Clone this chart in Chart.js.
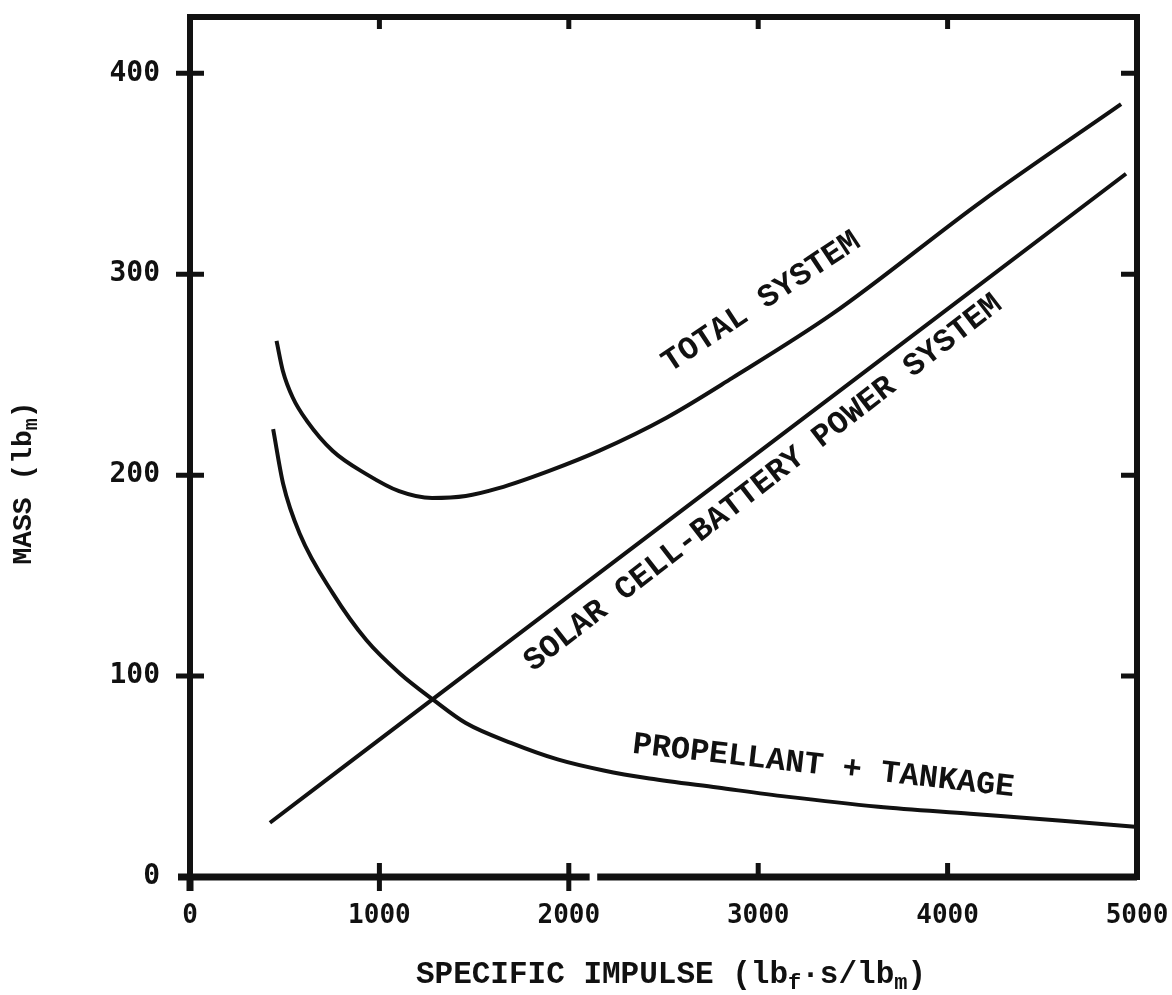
<!DOCTYPE html>
<html>
<head>
<meta charset="utf-8">
<title>Mass vs specific impulse</title>
<script src="https://cdn.jsdelivr.net/npm/chart.js@4.4.1/dist/chart.umd.min.js"></script>
<style>
  body { margin: 0; background: #fff; }
  #wrap { width: 1172px; height: 995px; }
</style>
</head>
<body>
<div id="wrap"><canvas id="massChart" width="1172" height="995"></canvas></div>
<script>
// values (specific impulse in lbf*s/lbm, mass in lbm)
const totalIsp = [457, 490, 543, 617, 754, 931, 1104, 1278, 1456, 1630, 1893, 2162, 2516, 2864, 3391, 4182, 4916];
const totalMass = [266.8, 252, 238.5, 227, 212, 200.5, 192, 188.6, 189.6, 193.5, 202, 212.2, 228.6, 248.4, 280.2, 336.4, 384.6];

const solarIsp = [422, 1275, 4942];
const solarMass = [27, 88, 350];

const propIsp = [439, 492, 580, 756, 932, 1108, 1287, 1456, 1698, 1941, 2184, 2426, 2785, 3149, 3634, 4119, 4604, 4989];
const propMass = [222.9, 195.6, 170.7, 140.9, 117.8, 101.3, 88.0, 76.6, 66.6, 58.5, 53, 49, 44.5, 40, 35, 31.5, 28, 25];

const xTicks = [0, 1000, 2000, 3000, 4000, 5000];
const yTicks = [0, 100, 200, 300, 400];

const INK = '#111';
const monoFont = '"Liberation Mono", "DejaVu Sans Mono", monospace';
const tickFont = '"DejaVu Sans Mono", monospace';

function toPoints(xs, ys) {
    return xs.map((x, i) => ({ x: x, y: ys[i] }));
}

// curve captions, placed in data units
const captions = [
    { text: 'TOTAL SYSTEM', x: 3017, y: 286, angle: -33.5 },
    { text: 'SOLAR CELL-BATTERY POWER SYSTEM', x: 3027, y: 196, angle: -37.8 },
    { text: 'PROPELLANT + TANKAGE', x: 3344, y: 55, angle: 6.5 }
];

// draws text made of parts, some of them subscripts
function drawRich(ctx, parts, size) {
    let total = 0;
    parts.forEach(p => {
        ctx.font = 'bold ' + (p.sub ? Math.round(size * 0.7) : size) + 'px ' + monoFont;
        p.w = ctx.measureText(p.t).width;
        total += p.w;
    });
    let x = -total / 2;
    parts.forEach(p => {
        ctx.font = 'bold ' + (p.sub ? Math.round(size * 0.7) : size) + 'px ' + monoFont;
        ctx.fillText(p.t, x, p.sub ? size * 0.28 : 0);
        x += p.w;
    });
}

const framePlugin = {
    id: 'frame',
    afterDatasetsDraw(chart) {
        const ctx = chart.ctx;
        const a = chart.chartArea;
        const xs = chart.scales.x;
        const ys = chart.scales.y;
        ctx.save();
        ctx.strokeStyle = INK;
        ctx.lineCap = 'butt';

        // box
        ctx.lineWidth = 6;
        ctx.strokeRect(a.left, a.top, a.right - a.left, a.bottom - a.top);
        ctx.lineWidth = 7;
        ctx.beginPath();
        ctx.moveTo(a.left - 12, a.bottom);
        ctx.lineTo(a.right, a.bottom);
        ctx.moveTo(a.left, a.bottom + 14);
        ctx.lineTo(a.left, a.bottom);
        ctx.stroke();

        // break in the bottom axis
        ctx.fillStyle = '#fff';
        const g1 = xs.getPixelForValue(2110), g2 = xs.getPixelForValue(2150);
        ctx.fillRect(g1, a.bottom - 6, g2 - g1, 12);

        ctx.lineWidth = 5;
        ctx.beginPath();
        yTicks.forEach(v => {
            if (v === 0) return;
            const py = ys.getPixelForValue(v);
            ctx.moveTo(a.left - 14, py);
            ctx.lineTo(a.left + 14, py);
            ctx.moveTo(a.right, py);
            ctx.lineTo(a.right - 16, py);
        });
        xTicks.forEach(v => {
            if (v === 0 || v === 5000) return;
            const px = xs.getPixelForValue(v);
            ctx.moveTo(px, a.top);
            ctx.lineTo(px, a.top + 12);
            ctx.moveTo(px, a.bottom - 14);
            ctx.lineTo(px, v <= 2000 ? a.bottom + 14 : a.bottom + 2);
        });
        ctx.stroke();

        // captions along the curves
        ctx.fillStyle = INK;
        ctx.textAlign = 'center';
        ctx.textBaseline = 'middle';
        ctx.font = 'bold 32px ' + monoFont;
        captions.forEach(c => {
            ctx.save();
            ctx.translate(xs.getPixelForValue(c.x), ys.getPixelForValue(c.y));
            ctx.rotate(c.angle * Math.PI / 180);
            ctx.fillText(c.text, 0, 0);
            ctx.restore();
        });

        // axis titles with subscripts
        ctx.textAlign = 'left';
        ctx.save();
        ctx.translate(671, a.bottom + 98);
        drawRich(ctx, [
            { t: 'SPECIFIC IMPULSE (lb' }, { t: 'f', sub: true },
            { t: '·s/lb' }, { t: 'm', sub: true }, { t: ')' }
        ], 31);
        ctx.restore();

        ctx.save();
        ctx.translate(24, 483);
        ctx.rotate(-Math.PI / 2);
        drawRich(ctx, [{ t: 'MASS (lb' }, { t: 'm', sub: true }, { t: ')' }], 28);
        ctx.restore();

        ctx.restore();
    }
};

const lineStyle = {
    borderColor: INK,
    borderWidth: 4,
    pointRadius: 0,
    fill: false,
    cubicInterpolationMode: 'monotone'
};

var ctx = document.getElementById('massChart').getContext('2d');
var massChart = new Chart(ctx, {
    type: 'line',
    data: {
        datasets: [
            Object.assign({ label: 'Total system', data: toPoints(totalIsp, totalMass) }, lineStyle),
            Object.assign({ label: 'Solar cell-battery power system', data: toPoints(solarIsp, solarMass) }, lineStyle),
            Object.assign({ label: 'Propellant + tankage', data: toPoints(propIsp, propMass) }, lineStyle)
        ]
    },
    options: {
        responsive: false,
        animation: false,
        layout: { padding: { top: 17, right: 35, left: 0, bottom: 0 } },
        plugins: {
            legend: { display: false },
            tooltip: { enabled: false }
        },
        scales: {
            x: {
                type: 'linear',
                min: 0,
                max: 5000,
                grid: { display: false, drawTicks: false },
                border: { display: false },
                afterBuildTicks: s => { s.ticks = xTicks.map(v => ({ value: v })); },
                afterFit: s => {
                    s.height = 118;
                    s.paddingLeft = 0; s.paddingRight = 0;
                },
                ticks: {
                    padding: 24,
                    color: INK,
                    font: { family: tickFont, size: 26, weight: 'bold' },
                    callback: v => String(v)
                }
            },
            y: {
                min: 0,
                max: 428,
                grid: { display: false, drawTicks: false },
                border: { display: false },
                afterBuildTicks: s => { s.ticks = yTicks.map(v => ({ value: v })); },
                afterFit: s => {
                    s.width = 190;
                    s.paddingTop = 0; s.paddingBottom = 0;
                },
                ticks: {
                    padding: 30,
                    color: INK,
                    font: { family: tickFont, size: 28, weight: 'bold' },
                    callback: v => String(v)
                }
            }
        }
    },
    plugins: [framePlugin]
});
</script>
</body>
</html>
